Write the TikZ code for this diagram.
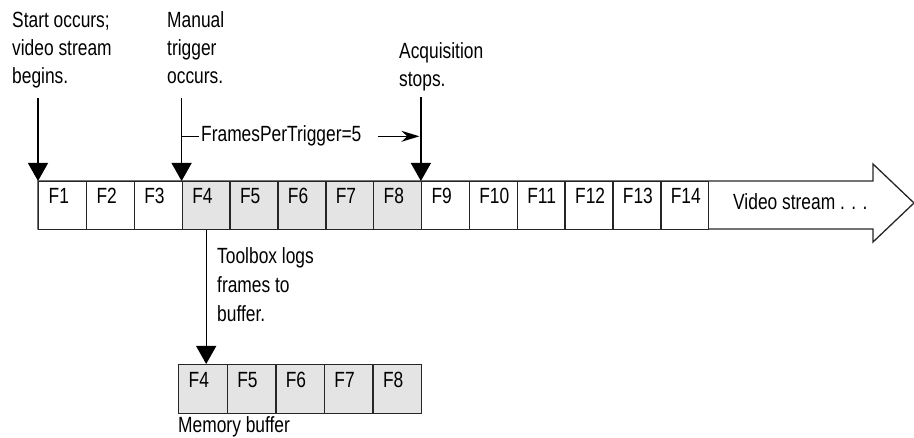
\documentclass[tikz,border=0pt]{standalone}
\usepackage{fontspec}
\setmainfont{Liberation Sans}[FakeStretch=0.79]
\usetikzlibrary{arrows.meta,positioning}
\definecolor{logged}{RGB}{228,228,228}
\tikzset{
  % one frame of the video stream: name in the top-left corner
  fcell/.style={draw=black!85, line width=1.3pt, fill=white, anchor=north west,
                align=left, font=\fontsize{22}{28}\selectfont, inner xsep=10pt,
                inner ysep=0pt, text width=27.85pt, text height=22pt, text depth=26pt},
  % frame logged by the toolbox (grey)
  lcell/.style={fcell, fill=logged},
  % frame in the memory buffer
  bcell/.style={lcell, text width=28.6pt, text height=23pt},
  % text labels
  lbl/.style={font=\fontsize{22}{28}\selectfont, align=left, inner sep=0pt},
  % outline of the stream arrow
  stream/.style={draw=black!85, line width=1.3pt, line join=miter},
  % event arrows
  trig/.style={line width=1.3pt, -{Triangle[width=20pt,length=18pt]}},
  fptline/.style={line width=1.3pt},
}

\begin{document}
\begin{tikzpicture}[x=1pt, y=-1pt]
\useasboundingbox (0,0) rectangle (914,438);

% =================== VIDEO STREAM ===================
\draw[stream] (38,181) -- (873,181) -- (873,164) -- (914,203) -- (873,242) -- (873,229) -- (38,229) -- cycle;

\node[fcell] (f1)  at (38,181)    {F1};
\node[fcell] (f2)  at (85.9,181)  {F2};
\node[fcell] (f3)  at (133.7,181) {F3};
\node[lcell] (f4)  at (181.6,181) {F4};
\node[lcell] (f5)  at (229.4,181) {F5};
\node[lcell] (f6)  at (277.3,181) {F6};
\node[lcell] (f7)  at (325.2,181) {F7};
\node[lcell] (f8)  at (373,181)   {F8};
\node[fcell] (f9)  at (420.9,181) {F9};
\node[fcell] (f10) at (468.7,181) {F10};
\node[fcell] (f11) at (516.6,181) {F11};
\node[fcell] (f12) at (564.5,181) {F12};
\node[fcell] (f13) at (612.3,181) {F13};
\node[fcell] (f14) at (660.2,181) {F14};

\node[lbl, anchor=base west] (vstream) at (733,210) {Video stream . . .};

% =================== EVENTS ===================
\node[lbl, anchor=north west] (start)  at (12,11.5)  {Start occurs;\\ video stream\\ begins.};
\node[lbl, anchor=north west] (manual) at (167,11.5) {Manual\\ trigger\\ occurs.};
\node[lbl, anchor=north west] (acq)    at (399,42.5) {Acquisition\\ stops.};

\draw[trig, shorten <=10pt] (f1.north west |- start.south) -- (f1.north west);
\draw[trig, shorten <=14pt] (f4.north west |- manual.south) -- (f4.north west);
\draw[trig, shorten <=6pt]  (f9.north west |- acq.south) -- (f9.north west);

\node[lbl, anchor=base west, inner xsep=2pt] (fpt) at (199,142) {FramesPerTrigger=5};
\draw[fptline] (f4.north west |- fpt.west) -- (fpt.west);
\draw[fptline, -{Stealth[length=18pt,width=11pt]}, shorten <=14pt, shorten >=1.5pt]
  (fpt.east) -- (f9.north west |- fpt.east);

% =================== MEMORY BUFFER ===================
\node[bcell] (b4) at (178,364)   {F4};
\node[bcell] (b5) at (226.6,364) {F5};
\node[bcell] (b6) at (275.2,364) {F6};
\node[bcell] (b7) at (323.8,364) {F7};
\node[bcell] (b8) at (372.4,364) {F8};

\node[lbl, anchor=north west, font=\fontsize{22}{29}\selectfont] (logs) at (217,247.5)
  {Toolbox logs\\ frames to\\ buffer.};
\draw[trig] (f4.south) -- (f4.south |- b4.north);

\node[lbl, anchor=base west] (membuf) at (178,433) {Memory buffer};

\end{tikzpicture}
\end{document}
